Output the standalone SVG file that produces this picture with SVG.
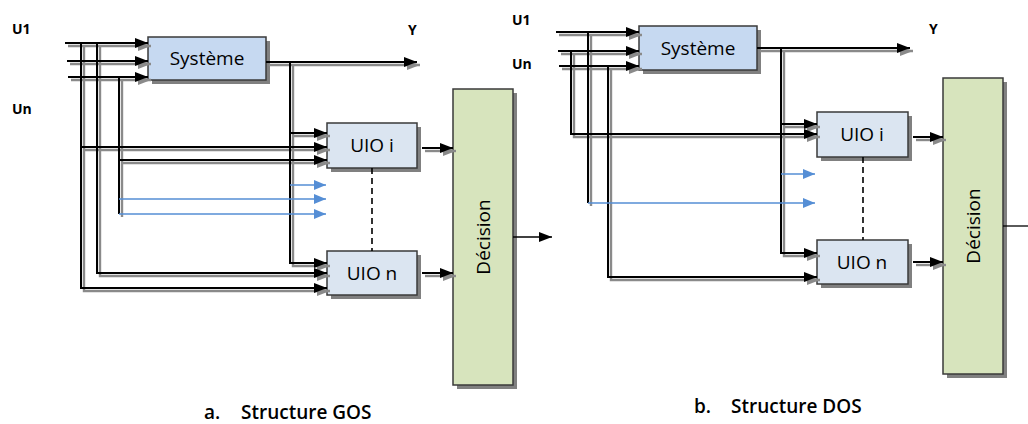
<svg xmlns="http://www.w3.org/2000/svg" width="1028" height="424" viewBox="0 0 1028 424">
<style>
.box{stroke:#3a3a3a;stroke-width:1.5}
.sys{fill:#c6d9f1}
.uio{fill:#dbe5f1}
.dec{fill:#d7e4bd}
.bshadow{fill:#808080}
.lbl{font-family:"Open Sans","Liberation Sans",sans-serif;font-size:19px;fill:#000}
.io{font-family:"Open Sans","Liberation Sans",sans-serif;font-size:14px;font-weight:700;fill:#000}
.cap{font-family:"Open Sans","Liberation Sans",sans-serif;font-size:19px;font-weight:600;fill:#000}
.blue{fill:none;stroke:#558ed5;stroke-width:1.4}
.thin{fill:none;stroke:#000;stroke-width:1.3}
.dash{fill:none;stroke:#000;stroke-width:1.6;stroke-dasharray:6 4}
</style>
<defs>
<marker id="ah" markerUnits="userSpaceOnUse" markerWidth="13" markerHeight="10" refX="13" refY="5" orient="auto" overflow="visible"><path d="M0,0 L13,5 L0,10 z" fill="#000"/></marker>
<marker id="ahg" markerUnits="userSpaceOnUse" markerWidth="13" markerHeight="10" refX="13" refY="5" orient="auto" overflow="visible"><path d="M0,0 L13,5 L0,10 z" fill="#8a8a8a"/></marker>
<marker id="ahb" markerUnits="userSpaceOnUse" markerWidth="12" markerHeight="10" refX="12" refY="5" orient="auto" overflow="visible"><path d="M0,0 L12,5 L0,10 z" fill="#558ed5"/></marker>
</defs>
<rect width="1028" height="424" fill="#fff"/>

<!-- Left: GOS -->
<g id="systemeA"><rect class="bshadow" x="152" y="41" width="118" height="43"/><rect class="box sys" x="148" y="37" width="118" height="43"/><text class="lbl" x="207" y="65" text-anchor="middle">Système</text></g>
<g id="uioiA"><rect class="bshadow" x="331" y="127" width="90" height="45"/><rect class="box uio" x="327" y="123" width="90" height="45"/><text class="lbl" x="372" y="152" text-anchor="middle">UIO i</text></g>
<g id="uionA"><rect class="bshadow" x="331" y="255" width="90" height="44"/><rect class="box uio" x="327" y="251" width="90" height="44"/><text class="lbl" x="372" y="280" text-anchor="middle">UIO n</text></g>
<g id="decisionA"><rect class="bshadow" x="457" y="93" width="60" height="296"/><rect class="box dec" x="453" y="89" width="60" height="296"/><text class="lbl" transform="translate(490,237) rotate(-90)" text-anchor="middle">Décision</text></g>

<!-- Right: DOS -->
<g id="systemeB"><rect class="bshadow" x="643" y="30" width="118" height="44"/><rect class="box sys" x="639" y="26" width="118" height="44"/><text class="lbl" x="698" y="55" text-anchor="middle">Système</text></g>
<g id="uioiB"><rect class="bshadow" x="821" y="116" width="91" height="45"/><rect class="box uio" x="817" y="112" width="91" height="45"/><text class="lbl" x="862" y="141" text-anchor="middle">UIO i</text></g>
<g id="uionB"><rect class="bshadow" x="821" y="244" width="91" height="44"/><rect class="box uio" x="817" y="240" width="91" height="44"/><text class="lbl" x="862" y="269" text-anchor="middle">UIO n</text></g>
<g id="decisionB"><rect class="bshadow" x="947" y="82" width="60" height="296"/><rect class="box dec" x="943" y="78" width="60" height="296"/><text class="lbl" transform="translate(980,226) rotate(-90)" text-anchor="middle">Décision</text></g>

<g id="connectors">
<g id="wire-shadows" fill="none" stroke="#8a8a8a" stroke-width="2.4" transform="translate(3,3)">
<path d="M65,43 H148" marker-end="url(#ahg)"/>
<path d="M67,61 H148" marker-end="url(#ahg)"/>
<path d="M68,77 H148" marker-end="url(#ahg)"/>
<path d="M81,43 V288 H327" marker-end="url(#ahg)"/>
<path d="M81,147 H327" marker-end="url(#ahg)"/>
<path d="M97,43 V273 H327" marker-end="url(#ahg)"/>
<path d="M119,77 V214"/>
<path d="M119,160 H327" marker-end="url(#ahg)"/>
<path d="M266,62 H417" marker-end="url(#ahg)"/>
<path d="M290,62 V263 H327" marker-end="url(#ahg)"/>
<path d="M290,133 H327" marker-end="url(#ahg)"/>
<path d="M422,148 H453" marker-end="url(#ahg)"/>
<path d="M422,273 H453" marker-end="url(#ahg)"/>
<path d="M556,32 H639" marker-end="url(#ahg)"/>
<path d="M558,51 H639" marker-end="url(#ahg)"/>
<path d="M559,66 H639" marker-end="url(#ahg)"/>
<path d="M571,51 V134 H817" marker-end="url(#ahg)"/>
<path d="M588,32 V203"/>
<path d="M608,66 V277 H817" marker-end="url(#ahg)"/>
<path d="M757,48 H910" marker-end="url(#ahg)"/>
<path d="M781,48 V253 H817" marker-end="url(#ahg)"/>
<path d="M781,124 H817" marker-end="url(#ahg)"/>
<path d="M913,137 H943" marker-end="url(#ahg)"/>
<path d="M913,262 H943" marker-end="url(#ahg)"/>
</g>
<g id="wires" fill="none" stroke="#000" stroke-width="2">
<path d="M65,43 H148" marker-end="url(#ah)"/>
<path d="M67,61 H148" marker-end="url(#ah)"/>
<path d="M68,77 H148" marker-end="url(#ah)"/>
<path d="M81,43 V288 H327" marker-end="url(#ah)"/>
<path d="M81,147 H327" marker-end="url(#ah)"/>
<path d="M97,43 V273 H327" marker-end="url(#ah)"/>
<path d="M119,77 V214"/>
<path d="M119,160 H327" marker-end="url(#ah)"/>
<path d="M266,62 H417" marker-end="url(#ah)"/>
<path d="M290,62 V263 H327" marker-end="url(#ah)"/>
<path d="M290,133 H327" marker-end="url(#ah)"/>
<path d="M422,148 H453" marker-end="url(#ah)"/>
<path d="M422,273 H453" marker-end="url(#ah)"/>
<path d="M556,32 H639" marker-end="url(#ah)"/>
<path d="M558,51 H639" marker-end="url(#ah)"/>
<path d="M559,66 H639" marker-end="url(#ah)"/>
<path d="M571,51 V134 H817" marker-end="url(#ah)"/>
<path d="M588,32 V203"/>
<path d="M608,66 V277 H817" marker-end="url(#ah)"/>
<path d="M757,48 H910" marker-end="url(#ah)"/>
<path d="M781,48 V253 H817" marker-end="url(#ah)"/>
<path d="M781,124 H817" marker-end="url(#ah)"/>
<path d="M913,137 H943" marker-end="url(#ah)"/>
<path d="M913,262 H943" marker-end="url(#ah)"/>
</g>
<g id="signals" class="blue">
<path d="M290,185 H326" marker-end="url(#ahb)"/>
<path d="M119,199 H326" marker-end="url(#ahb)"/>
<path d="M119,214 H326" marker-end="url(#ahb)"/>
<path d="M781,174 H815" marker-end="url(#ahb)"/>
<path d="M588,203 H815" marker-end="url(#ahb)"/>
</g>
<g id="outputs" class="thin">
<path d="M513,237 H552" marker-end="url(#ah)"/>
<path d="M1003,226 H1028"/>
</g>
<g id="dashes" class="dash">
<path d="M372,168 V251"/>
<path d="M863,157 V240"/>
</g>
</g>

<g id="labels">
<text class="io" x="12" y="34">U1</text>
<text class="io" x="12" y="114">Un</text>
<text class="io" x="408" y="35">Y</text>
<text class="io" x="512" y="25">U1</text>
<text class="io" x="512" y="69">Un</text>
<text class="io" x="929" y="34">Y</text>
<text class="cap" x="204" y="419">a.</text>
<text class="cap" x="241" y="419">Structure GOS</text>
<text class="cap" x="694" y="413">b.</text>
<text class="cap" x="731" y="413">Structure DOS</text>
</g>
</svg>
